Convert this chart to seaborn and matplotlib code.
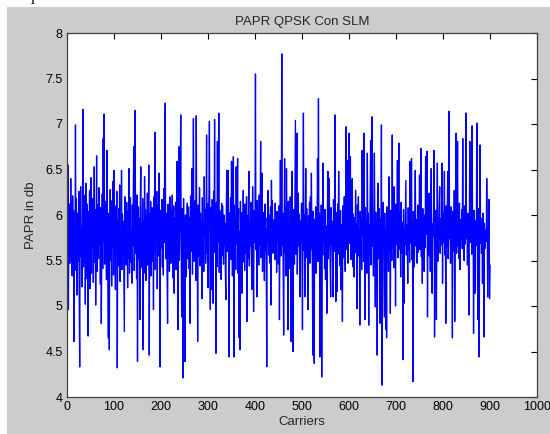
import numpy as np
import pandas as pd
import seaborn as sns
import matplotlib.pyplot as plt
import matplotlib.patches as mpatches

# PAPR (dB) per carrier, 20 carriers per row
papr_db = [
    5.52, 6.55, 4.96, 5.88, 6.12, 5.47, 5.71, 6.40, 5.60, 6.14, 5.33, 6.21, 5.58, 6.05, 4.61, 5.92, 5.39, 6.99, 5.64, 6.18,
    5.12, 6.02, 5.77, 5.49, 6.26, 5.08, 4.33, 5.95, 6.31, 5.54, 5.86, 5.21, 6.09, 7.16, 5.43, 5.97, 5.68, 6.22, 5.02, 6.35,
    5.61, 5.30, 6.12, 5.74, 4.67, 6.04, 5.55, 6.27, 5.19, 5.83, 6.41, 5.36, 5.90, 5.64, 6.18, 5.26, 5.79, 6.53, 5.48, 6.06,
    5.01, 5.72, 6.65, 5.38, 6.11, 5.84, 5.52, 6.30, 5.67, 5.95, 5.24, 6.08, 4.81, 5.63, 6.23, 5.41, 6.84, 5.70, 7.11, 5.46,
    6.15, 5.58, 5.92, 5.29, 6.71, 5.80, 5.37, 4.65, 6.02, 4.52, 5.76, 6.28, 5.50, 5.98, 5.22, 6.16, 5.65, 6.37, 5.34, 6.49,
    5.57, 5.89, 5.18, 6.10, 5.73, 6.26, 4.32, 5.95, 5.44, 6.07, 5.61, 6.33, 5.27, 5.84, 5.56, 6.49, 5.40, 6.01, 5.69, 5.93,
    5.31, 4.72, 6.20, 5.62, 5.97, 5.45, 6.14, 5.78, 5.20, 6.04, 5.53, 6.51, 5.36, 5.90, 6.19, 5.48, 5.82, 5.25, 6.11, 5.66,
    6.27, 6.75, 5.39, 5.81, 7.15, 5.58, 6.03, 5.30, 6.22, 4.39, 5.74, 6.09, 5.51, 5.96, 4.85, 6.13, 6.53, 5.42, 5.87, 5.60,
    6.18, 4.52, 5.93, 5.36, 6.42, 5.71, 6.06, 5.28, 5.99, 5.54, 6.24, 5.45, 5.88, 6.55, 4.46, 6.01, 5.67, 6.15, 5.33, 5.79,
    6.08, 5.49, 5.85, 4.96, 6.20, 5.61, 6.91, 5.40, 5.94, 5.72, 6.26, 5.19, 5.83, 6.11, 5.55, 6.46, 5.37, 4.33, 5.90, 6.05,
    5.64, 6.17, 5.43, 5.98, 5.34, 6.29, 5.70, 6.86, 7.23, 5.52, 6.02, 5.82, 5.27, 4.81, 6.12, 5.58, 5.91, 5.38, 6.20, 5.76,
    5.47, 6.05, 5.63, 6.22, 5.31, 5.88, 6.10, 5.14, 5.97, 5.55, 6.14, 5.40, 5.79, 6.59, 5.66, 4.74, 6.03, 6.75, 5.50, 5.86,
    6.31, 7.10, 5.58, 4.88, 6.07, 5.73, 4.21, 6.18, 5.46, 5.95, 4.39, 6.00, 5.64, 5.32, 5.89, 6.13, 5.52, 5.78, 6.09, 5.41,
    5.97, 4.81, 6.21, 5.60, 5.84, 6.51, 5.35, 6.04, 7.06, 5.49, 5.92, 5.68, 6.16, 5.28, 7.09, 5.74, 5.99, 4.61, 6.11, 5.55,
    5.83, 6.30, 5.44, 6.02, 5.71, 5.93, 5.08, 6.19, 5.62, 5.87, 5.38, 6.42, 5.76, 6.06, 5.47, 5.95, 6.88, 5.58, 6.12, 5.20,
    5.89, 6.23, 7.03, 5.66, 4.96, 6.08, 5.52, 5.18, 6.17, 5.81, 5.03, 6.26, 5.59, 7.05, 5.74, 5.98, 4.48, 6.14, 5.43, 6.81,
    5.70, 5.94, 7.12, 5.37, 6.05, 5.62, 5.88, 5.29, 6.13, 5.55, 6.10, 5.78, 5.46, 6.00, 5.67, 5.91, 5.35, 5.07, 6.09, 6.49,
    5.60, 5.84, 6.49, 5.42, 4.44, 6.02, 5.73, 6.19, 5.51, 6.59, 5.80, 5.33, 5.97, 6.64, 4.44, 6.11, 5.57, 5.89, 5.40, 6.53,
    5.68, 5.95, 6.62, 5.36, 6.07, 4.65, 5.82, 4.52, 6.15, 5.63, 5.90, 5.14, 6.03, 5.48, 6.27, 5.71, 5.96, 5.39, 6.12, 5.58,
    5.85, 6.20, 4.83, 5.99, 5.52, 6.08, 6.48, 5.44, 5.92, 5.66, 6.14, 5.75, 5.18, 5.87, 6.31, 5.59, 4.94, 6.05, 5.70, 5.96,
    7.55, 5.62, 5.89, 5.10, 6.16, 5.74, 5.98, 5.45, 6.22, 5.67, 5.91, 6.81, 5.53, 5.84, 6.46, 5.38, 6.03, 5.79, 5.95, 5.28,
    6.12, 5.61, 5.85, 5.40, 4.33, 5.97, 5.73, 6.27, 5.56, 6.00, 5.82, 5.47, 6.09, 5.01, 6.38, 5.69, 6.16, 5.58, 5.92, 5.76,
    5.95, 5.51, 6.13, 5.64, 5.88, 5.37, 6.04, 5.72, 5.99, 5.46, 6.10, 4.85, 5.80, 6.60, 5.55, 5.93, 7.77, 5.67, 6.02, 5.42,
    4.68, 5.87, 6.62, 5.58, 6.08, 5.33, 6.51, 5.75, 5.96, 4.74, 6.15, 5.62, 5.89, 5.41, 6.20, 5.70, 4.61, 5.98, 6.48, 5.52,
    4.50, 6.06, 5.79, 5.46, 6.18, 7.04, 5.57, 5.92, 6.90, 5.35, 5.83, 6.24, 5.66, 6.01, 5.49, 5.10, 5.94, 5.72, 6.13, 5.56,
    4.74, 5.88, 7.12, 5.61, 6.00, 5.10, 5.84, 6.51, 5.53, 6.07, 5.77, 5.38, 4.96, 5.99, 5.69, 6.14, 5.47, 6.20, 5.62, 6.46,
    5.80, 5.43, 4.46, 6.04, 5.71, 4.37, 5.95, 5.58, 6.09, 5.36, 5.86, 5.67, 6.62, 5.49, 7.28, 5.74, 6.02, 4.44, 5.90, 5.63,
    6.11, 4.22, 5.83, 5.56, 6.57, 5.70, 5.97, 5.41, 6.06, 5.29, 5.88, 5.64, 4.92, 6.01, 6.48, 5.52, 5.91, 6.40, 5.75, 5.45,
    5.10, 6.08, 5.68, 5.93, 5.49, 5.10, 6.17, 5.81, 5.60, 7.10, 5.87, 5.05, 6.03, 5.72, 5.16, 6.12, 5.57, 6.48, 5.79, 5.94,
    5.44, 6.05, 5.18, 5.89, 5.66, 4.83, 6.10, 5.53, 5.96, 6.20, 5.73, 5.38, 6.02, 6.97, 5.62, 5.86, 6.60, 5.47, 6.14, 6.90,
    5.69, 5.92, 6.64, 5.51, 6.07, 5.78, 6.40, 5.43, 6.01, 5.85, 5.32, 5.97, 5.64, 6.27, 5.58, 5.90, 4.97, 6.11, 5.74, 6.20,
    5.55, 5.83, 4.79, 6.04, 5.67, 5.96, 5.40, 6.71, 5.78, 6.12, 5.49, 6.90, 5.86, 4.85, 6.08, 5.63, 5.94, 5.36, 6.68, 5.71,
    6.02, 4.79, 5.89, 5.57, 6.15, 6.82, 5.45, 5.98, 7.08, 5.66, 5.88, 5.33, 6.10, 6.68, 5.74, 4.99, 6.03, 5.59, 5.92, 4.46,
    5.81, 6.35, 5.52, 6.07, 5.69, 4.81, 5.96, 5.63, 6.99, 4.13, 5.90, 5.74, 6.14, 5.47, 4.88, 6.02, 5.58, 4.74, 5.85, 4.65,
    6.09, 5.71, 5.94, 5.38, 6.42, 5.60, 5.87, 4.92, 6.05, 5.76, 5.50, 6.88, 5.65, 5.99, 5.42, 6.31, 5.73, 5.91, 5.00, 6.12,
    5.68, 5.94, 6.60, 5.53, 5.86, 6.79, 5.62, 6.03, 5.77, 5.32, 6.14, 5.58, 5.92, 5.70, 4.41, 6.06, 5.03, 5.84, 5.67, 6.00,
    6.38, 5.56, 5.89, 5.74, 5.25, 6.08, 5.63, 5.97, 5.48, 6.59, 5.80, 5.69, 6.62, 5.51, 5.93, 4.17, 6.04, 5.78, 5.43, 5.87,
    6.49, 5.66, 5.95, 5.72, 5.47, 6.11, 5.59, 5.88, 5.76, 6.44, 5.62, 5.91, 6.73, 5.54, 5.98, 5.25, 6.07, 5.70, 5.84, 5.38,
    6.00, 5.64, 6.64, 5.79, 5.93, 6.70, 4.88, 5.86, 5.71, 6.24, 5.55, 5.97, 5.38, 6.09, 6.51, 5.68, 5.14, 5.90, 5.77, 6.02,
    6.71, 4.66, 5.83, 5.61, 6.05, 4.85, 5.92, 6.57, 5.49, 5.87, 5.73, 6.12, 6.31, 5.58, 5.96, 5.67, 5.89, 6.57, 5.25, 6.03,
    5.70, 5.94, 6.48, 5.56, 5.82, 4.81, 6.10, 5.65, 5.98, 6.48, 5.52, 5.86, 7.14, 5.74, 5.93, 5.47, 6.09, 5.69, 5.88, 4.65,
    6.04, 5.77, 5.60, 6.27, 4.83, 5.92, 5.71, 6.90, 5.58, 5.99, 6.81, 5.66, 5.87, 5.52, 6.13, 5.40, 5.95, 5.73, 5.84, 6.06,
    5.63, 6.84, 5.79, 5.97, 5.50, 6.10, 5.68, 5.91, 7.12, 5.74, 5.96, 5.45, 6.02, 5.61, 4.90, 5.88, 6.81, 5.70, 5.93, 6.62,
    5.57, 6.98, 5.81, 5.99, 4.70, 6.05, 5.73, 5.14, 5.94, 5.66, 5.88, 7.01, 5.78, 4.85, 6.07, 5.62, 4.44, 5.92, 6.77, 5.69,
    5.96, 5.58, 5.87, 5.25, 6.02, 5.74, 4.66, 5.91, 5.63, 5.80, 5.84, 5.71, 6.40, 5.97, 5.10, 5.86, 5.77, 6.17, 5.08, 5.45,
]
carriers = np.arange(1, len(papr_db) + 1)

x_ticks = [0, 100, 200, 300, 400, 500, 600, 700, 800, 900, 1000]
y_ticks = [4, 4.5, 5, 5.5, 6, 6.5, 7, 7.5, 8]
y_tick_labels = ['4', '4.5', '5', '5.5', '6', '6.5', '7', '7.5', '8']

df = pd.DataFrame({'carrier': carriers, 'papr': papr_db})

sns.set_style('white')
plt.rcParams['font.family'] = ['Liberation Sans', 'DejaVu Sans']
plt.rcParams['font.size'] = 9

fig = plt.figure(figsize=(5.5, 4.34), dpi=100, facecolor='white')
# grey matlab figure window, offset from the top-left corner
fig.patches.append(mpatches.Rectangle((7 / 550, 0), 1, 1 - 7 / 434, transform=fig.transFigure,
                                      facecolor='#cccccc', edgecolor='none', zorder=-5))
fig.text(25 / 550, 1 + 4 / 434, 'que.', family='Liberation Serif', fontsize=13, va='center')

ax = fig.add_axes([67 / 550, 37 / 434, 470 / 550, 364 / 434])
ax.set_zorder(5)
ax.set_facecolor('white')
sns.lineplot(data=df, x='carrier', y='papr', color='#0000ff', linewidth=0.95, ax=ax)

ax.set_xlim(0, 1000)
ax.set_ylim(4, 8)
ax.set_xticks(x_ticks)
ax.set_yticks(y_ticks)
ax.set_yticklabels(y_tick_labels)
ax.tick_params(direction='in', length=4, width=0.8, top=True, right=True,
               colors='#000000', labelsize=9, pad=3)
for side in ax.spines.values():
    side.set_visible(True)
    side.set_color('#404040')
    side.set_linewidth(0.9)

ax.set_title('PAPR QPSK Con SLM', fontsize=9.5, pad=6)
ax.set_xlabel('Carriers', fontsize=9.5, labelpad=2)
ax.set_ylabel('PAPR in db', fontsize=9.5, labelpad=6)

fig.savefig('out.png', dpi=100, facecolor=fig.get_facecolor())
